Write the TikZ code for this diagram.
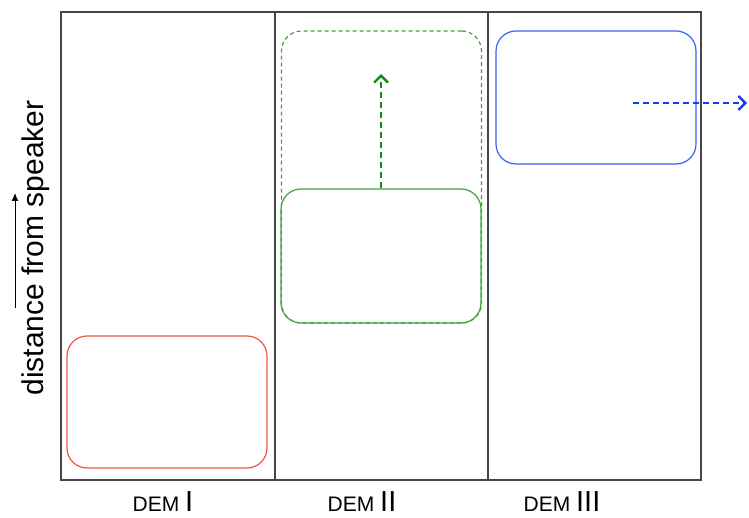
\documentclass[tikz,border=0pt]{standalone}
\usepackage{fontspec}
\setmainfont{Liberation Sans}
\usetikzlibrary{arrows.meta}

\definecolor{framegray}{RGB}{70,70,70}
\definecolor{demred}{RGB}{240,85,65}
\definecolor{demgreen}{RGB}{60,165,55}
\definecolor{arrgreen}{RGB}{20,140,20}
\definecolor{demblue}{RGB}{55,95,250}
\definecolor{arrblue}{RGB}{25,60,240}

\tikzset{
  region/.style={draw,rounded corners=20pt,line width=1.2pt,inner sep=0pt,
    minimum width=200pt},
  shift arrow/.style={line width=2.4pt,dash pattern=on 6pt off 4pt,
    -{Straight Barb[length=7pt,width=14pt,line width=2.4pt]}},
  demlabel/.style={anchor=base,inner sep=0pt,font=\fontsize{21}{25}\selectfont},
}
\newcommand{\bigroman}[1]{{\fontsize{29}{29}\selectfont #1}}

\begin{document}
\begin{tikzpicture}[x=1pt,y=-1pt]
    \useasboundingbox (0,0) rectangle (749,518);

    \def\top{12}	 %top of frame
    \def\bot{480}	 %bottom of frame

    %FRAME with the three columns
    \draw[framegray,line width=1.4pt] (61,\top) rectangle (701,\bot);
    \draw[framegray,line width=1.4pt] (275,\top)--(275,\bot);
    \draw[framegray,line width=1.4pt] (488,\top)--(488,\bot);

    %vertical axis
    \node[rotate=90,font=\fontsize{30}{36}\selectfont] (ylabel) at (36,248) {distance from speaker};
    \coordinate (yfrom) at (15,308);	\coordinate (yto) at (15,193);
    \draw[line width=1pt,-{Latex[length=8pt,width=7pt]}] (yfrom)--(yto);

    %DEM I
    \node[region,demred,minimum height=132pt] (near) at (167,402) {};
    %DEM II: solid box and its dashed shifted copy
    \node[region,demgreen,minimum height=292pt,dash pattern=on 4pt off 3pt] (midshift) at (381.5,177) {};
    \node[region,demgreen,minimum height=134pt] (mid) at (381,256) {};
    \coordinate (midtip) at (381,74);
    \draw[shift arrow,arrgreen] (mid.north)--(midtip);
    %DEM III
    \node[region,demblue,minimum height=133pt] (far) at (596,97.5) {};
    \coordinate (farfrom) at (633,103);	\coordinate (fartip) at (747,103);
    \draw[shift arrow,arrblue] (farfrom)--(fartip);

    %column labels
    \node[demlabel] (dem1) at (163,511) {DEM \bigroman{I}};
    \node[demlabel] (dem2) at (362,511) {DEM \bigroman{II}};
    \node[demlabel] (dem3) at (562,511) {DEM \bigroman{III}};
\end{tikzpicture}
\end{document}
